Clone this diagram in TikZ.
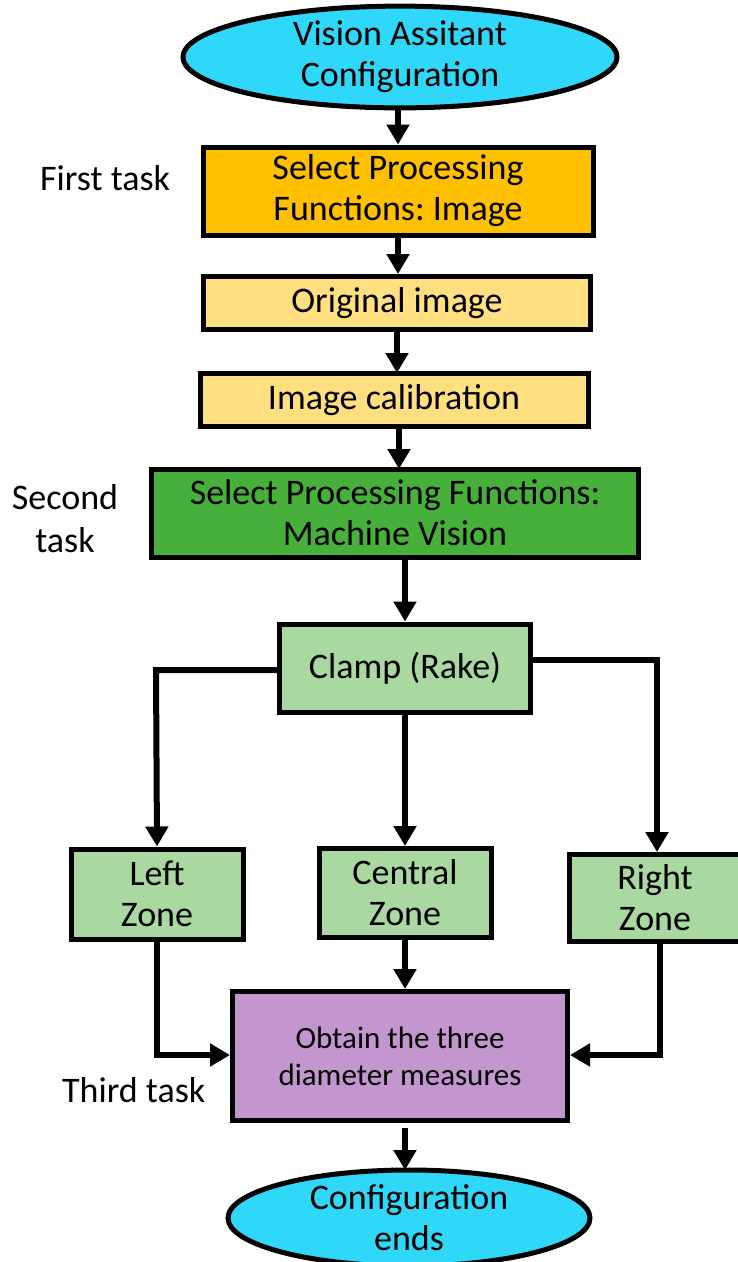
\documentclass[tikz,border=0pt]{standalone}
\usepackage{fontspec}
\setmainfont{Carlito}
\frenchspacing
\usetikzlibrary{arrows.meta,shapes.geometric}
\definecolor{cyanfill}{HTML}{2FD8F8}
\definecolor{orangefill}{HTML}{FFC000}
\definecolor{yellowfill}{HTML}{FFDF7F}
\definecolor{greenfill}{HTML}{46B03A}
\definecolor{lgreenfill}{HTML}{A9D8A1}
\definecolor{purplefill}{HTML}{C396D0}
\tikzset{
  box/.style={draw=black, line width=5pt, rectangle, inner sep=0pt, align=center,
    font=\fontsize{36}{41}\selectfont},
  term/.style={draw=black, line width=5pt, ellipse, inner sep=0pt, align=center,
    fill=cyanfill, font=\fontsize{36}{41}\selectfont},
  lbl/.style={inner sep=0pt, align=center, font=\fontsize{36}{43}\selectfont},
  conn/.style={line width=6pt, -{Triangle[width=22pt,length=20pt]}}
}
\begin{document}
\begin{tikzpicture}[x=1pt,y=-1pt]
\useasboundingbox (0,0) rectangle (737,1262);
% nodes
\node[term, minimum width=434pt, minimum height=92pt] (start) at (400,57) {\raisebox{-3pt}{\parbox{300pt}{\centering Vision Assitant\\Configuration}}};
\node[box, fill=orangefill, minimum width=390pt, minimum height=88pt] (sel1) at (398,191) {\raisebox{-3pt}{\parbox{300pt}{\centering Select Processing\\Functions: Image}}};
\node[box, fill=yellowfill, minimum width=387pt, minimum height=53pt] (orig) at (397,303) {Original image};
\node[box, fill=yellowfill, minimum width=388pt, minimum height=53pt] (calib) at (394,400) {Image calibration};
\node[box, fill=greenfill, minimum width=487pt, minimum height=88pt] (sel2) at (395,513) {Select Processing Functions:\\Machine Vision};
\node[box, fill=lgreenfill, minimum width=251pt, minimum height=88pt] (clamp) at (405,668) {Clamp (Rake)};
\node[box, fill=lgreenfill, minimum width=172pt, minimum height=90pt] (left) at (157,894) {Left\\Zone};
\node[box, fill=lgreenfill, minimum width=172pt, minimum height=89pt] (central) at (405,893) {Central\\Zone};
\node[box, fill=lgreenfill, minimum width=172pt, minimum height=87pt] (right) at (655,898) {Right\\Zone};
\node[box, fill=purplefill, minimum width=335pt, minimum height=129pt,
  font=\fontsize{31}{37}\selectfont] (obtain) at (400,1056) {Obtain the three\\diameter measures};
\node[term, minimum width=362pt, minimum height=96pt] (stop) at (409,1218) {Configuration\\ends};
% labels
\node[lbl, anchor=west] (t1) at (40,178) {First task};
\node[lbl] (t2) at (65,519) {Second\\task};
\node[lbl, anchor=west] (t3) at (62,1090) {Third task};
% helper coordinates
\coordinate (lc) at (156,670);
\coordinate (rc) at (657,660);
\coordinate (lb) at (157,1055);
\coordinate (rb) at (660,1055);
% connectors
\draw[conn] (start.south -| sel1.north) -- (sel1.north);
\draw[conn] (sel1.south) -- (sel1.south |- orig.north);
\draw[conn] (397,330) -- (397,373);
\draw[conn] (399,426) -- (399,469);
\draw[conn] (405,557) -- (clamp.north);
\draw[conn] (clamp.west |- lc) -- (lc) -- (left.north);
\draw[conn] (clamp.south) -- (central.north);
\draw[conn] (clamp.east |- rc) -- (rc) -- (rc |- right.north);
\draw[conn] (left.south) -- (lb) -- (obtain.west |- lb);
\draw[conn] (central.south) -- (central.south |- obtain.north);
\draw[conn] (right.south -| rb) -- (rb) -- (obtain.east |- rb);
\draw[conn] (405,1128) -- (405,1170);
\end{tikzpicture}
\end{document}
